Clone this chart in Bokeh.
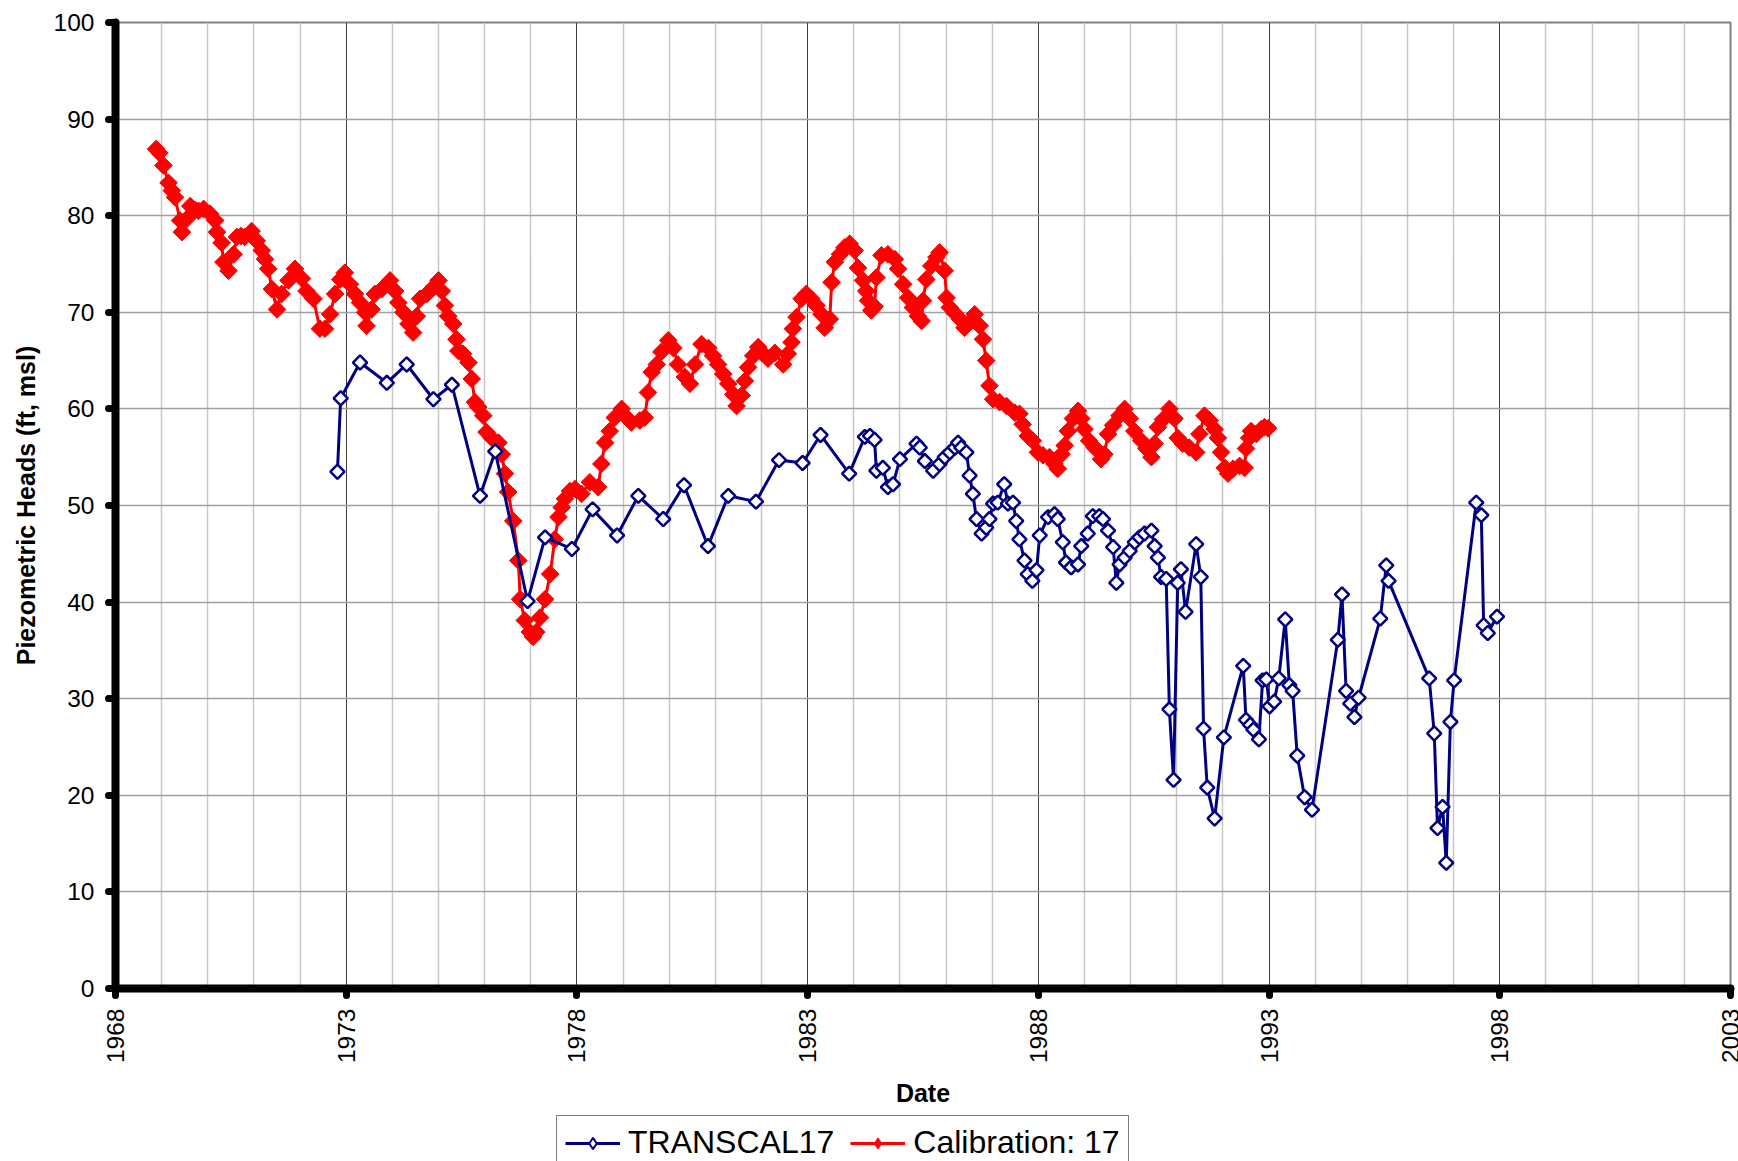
import math
from bokeh.plotting import figure
from bokeh.layouts import column
from bokeh.models import FixedTicker, Legend, LegendItem, ColumnDataSource, Range1d
from bokeh.embed import file_html
from bokeh.resources import INLINE

# ---------------- data (decimal years, ft msl) ----------------
transcal_dates = [
    1972.81, 1972.88, 1973.30, 1973.88, 1974.31, 1974.89, 1975.29, 1975.90, 1976.23, 1976.93,
    1977.31, 1977.89, 1978.34, 1978.87, 1979.33, 1979.87, 1980.32, 1980.84, 1981.28, 1981.88,
    1982.38, 1982.89, 1983.28, 1983.90, 1984.24, 1984.35, 1984.45, 1984.49, 1984.63, 1984.74,
    1984.85, 1985.00, 1985.36, 1985.43, 1985.54, 1985.72, 1985.86, 1985.97, 1986.08, 1986.19,
    1986.26, 1986.33, 1986.44, 1986.51, 1986.58, 1986.66, 1986.77, 1986.87, 1986.94, 1987.02,
    1987.12, 1987.26, 1987.34, 1987.45, 1987.52, 1987.59, 1987.70, 1987.77, 1987.87, 1987.96,
    1988.03, 1988.21, 1988.35, 1988.42, 1988.53, 1988.60, 1988.71, 1988.86, 1988.93, 1989.07,
    1989.18, 1989.32, 1989.40, 1989.51, 1989.62, 1989.69, 1989.76, 1989.87, 1989.98, 1990.09,
    1990.19, 1990.30, 1990.45, 1990.52, 1990.59, 1990.66, 1990.77, 1990.84, 1990.93, 1991.02,
    1991.09, 1991.19, 1991.42, 1991.52, 1991.58, 1991.66, 1991.82, 1992.02, 1992.44, 1992.50,
    1992.59, 1992.66, 1992.78, 1992.86, 1992.94, 1993.01, 1993.11, 1993.21, 1993.35, 1993.44,
    1993.51, 1993.61, 1993.77, 1993.93, 1994.49, 1994.58, 1994.67, 1994.76, 1994.85, 1994.94,
    1995.41, 1995.54, 1995.59, 1996.47, 1996.58, 1996.65, 1996.76, 1996.84, 1996.93, 1997.01,
    1997.49, 1997.60, 1997.65, 1997.74, 1997.94,
]
transcal_heads = [
    53.5, 61.1, 64.8, 62.7, 64.6, 61.0, 62.5, 51.0, 55.6, 40.1,
    46.7, 45.5, 49.6, 46.9, 51.0, 48.6, 52.1, 45.8, 51.0, 50.4,
    54.7, 54.4, 57.3, 53.3, 57.1, 57.2, 56.8, 53.6, 53.9, 51.9,
    52.2, 54.8, 56.4, 56.0, 54.6, 53.6, 54.3, 55.0, 55.5, 56.0,
    56.5, 56.0, 55.5, 53.1, 51.2, 48.6, 47.1, 47.7, 48.6, 50.2,
    50.3, 52.2, 50.2, 50.3, 48.4, 46.5, 44.3, 42.9, 42.2, 43.3,
    46.9, 48.8, 49.1, 48.6, 46.2, 44.1, 43.6, 43.9, 45.8, 47.1,
    48.9, 48.9, 48.6, 47.4, 45.7, 42.0, 43.9, 44.6, 45.3, 46.2,
    46.7, 47.1, 47.4, 45.8, 44.6, 42.6, 42.4, 28.9, 21.6, 42.0,
    43.4, 39.0, 46.0, 42.6, 26.9, 20.8, 17.6, 26.0, 33.4, 27.8,
    27.3, 26.8, 25.8, 31.9, 32.0, 29.2, 29.7, 32.1, 38.2, 31.4,
    30.8, 24.1, 19.8, 18.5, 36.1, 40.8, 30.8, 29.5, 28.1, 30.1,
    38.3, 43.8, 42.2, 32.1, 26.4, 16.6, 18.8, 13.0, 27.6, 31.9,
    50.3, 49.0, 37.6, 36.8, 38.5,
]

calib_dates = [
    1968.88, 1968.95, 1969.04, 1969.15, 1969.22, 1969.29, 1969.40, 1969.44, 1969.55, 1969.62,
    1969.72, 1969.80, 1969.91, 1970.05, 1970.16, 1970.20, 1970.30, 1970.34, 1970.45, 1970.56,
    1970.63, 1970.72, 1970.80, 1970.95, 1971.06, 1971.17, 1971.24, 1971.31, 1971.39, 1971.50,
    1971.60, 1971.75, 1971.89, 1972.04, 1972.14, 1972.29, 1972.43, 1972.54, 1972.65, 1972.76,
    1972.87, 1972.97, 1973.08, 1973.19, 1973.30, 1973.41, 1973.44, 1973.55, 1973.62, 1973.77,
    1973.95, 1974.06, 1974.13, 1974.24, 1974.35, 1974.45, 1974.53, 1974.60, 1974.75, 1974.89,
    1975.00, 1975.07, 1975.14, 1975.21, 1975.32, 1975.39, 1975.43, 1975.53, 1975.65, 1975.72,
    1975.79, 1975.86, 1975.97, 1976.04, 1976.15, 1976.30, 1976.37, 1976.44, 1976.51, 1976.62,
    1976.73, 1976.77, 1976.87, 1976.98, 1977.05, 1977.12, 1977.20, 1977.31, 1977.42, 1977.52,
    1977.60, 1977.67, 1977.74, 1977.85, 1977.96, 1978.10, 1978.28, 1978.46, 1978.53, 1978.61,
    1978.71, 1978.82, 1978.97, 1979.08, 1979.18, 1979.36, 1979.47, 1979.54, 1979.62, 1979.73,
    1979.83, 1979.98, 1980.09, 1980.19, 1980.34, 1980.45, 1980.56, 1980.70, 1980.85, 1980.95,
    1981.06, 1981.17, 1981.28, 1981.39, 1981.46, 1981.57, 1981.64, 1981.71, 1981.82, 1981.93,
    1982.04, 1982.14, 1982.29, 1982.47, 1982.57, 1982.65, 1982.68, 1982.76, 1982.87, 1982.97,
    1983.08, 1983.19, 1983.30, 1983.37, 1983.48, 1983.52, 1983.59, 1983.70, 1983.80, 1983.91,
    1984.02, 1984.09, 1984.20, 1984.27, 1984.31, 1984.38, 1984.45, 1984.49, 1984.60, 1984.74,
    1984.89, 1984.96, 1985.07, 1985.18, 1985.28, 1985.39, 1985.47, 1985.50, 1985.57, 1985.68,
    1985.79, 1985.86, 1985.97, 1986.01, 1986.08, 1986.19, 1986.30, 1986.40, 1986.55, 1986.62,
    1986.73, 1986.80, 1986.87, 1986.94, 1987.02, 1987.16, 1987.31, 1987.49, 1987.59, 1987.66,
    1987.77, 1987.88, 1987.99, 1988.10, 1988.24, 1988.35, 1988.42, 1988.50, 1988.57, 1988.64,
    1988.75, 1988.86, 1988.93, 1989.00, 1989.10, 1989.22, 1989.36, 1989.43, 1989.51, 1989.62,
    1989.76, 1989.87, 1989.98, 1990.08, 1990.23, 1990.34, 1990.45, 1990.52, 1990.59, 1990.70,
    1990.84, 1990.95, 1991.02, 1991.13, 1991.27, 1991.42, 1991.49, 1991.60, 1991.71, 1991.82,
    1991.89, 1991.96, 1992.04, 1992.11, 1992.22, 1992.36, 1992.47, 1992.50, 1992.57, 1992.61,
    1992.72, 1992.83, 1992.90, 1992.98,
]
calib_heads = [
    86.9, 86.5, 85.2, 83.4, 82.6, 81.9, 79.5, 78.3, 79.7, 81.0,
    80.6, 80.5, 80.7, 80.2, 79.5, 78.3, 77.2, 75.2, 74.3, 76.0,
    77.8, 77.9, 77.8, 78.4, 77.4, 76.4, 75.5, 74.5, 72.4, 70.3,
    71.9, 73.3, 74.5, 73.5, 72.2, 71.4, 68.3, 68.3, 69.8, 71.9,
    73.4, 74.1, 72.9, 71.9, 71.0, 70.0, 68.6, 70.3, 71.9, 72.4,
    73.3, 72.2, 71.0, 70.0, 68.8, 67.9, 69.6, 71.4, 71.9, 72.6,
    73.3, 72.2, 70.7, 69.6, 68.8, 67.2, 66.0, 65.7, 64.8, 63.1,
    60.7, 60.2, 59.3, 57.6, 57.0, 56.5, 55.3, 53.3, 51.4, 48.4,
    44.3, 40.3, 38.1, 36.9, 36.4, 36.9, 38.4, 40.3, 42.9, 46.5,
    48.8, 49.8, 50.7, 51.5, 51.7, 51.2, 52.4, 51.9, 54.3, 56.5,
    57.7, 59.1, 60.0, 59.1, 58.6, 58.8, 59.1, 61.7, 63.8, 64.6,
    65.9, 67.1, 66.3, 64.6, 63.3, 62.6, 64.6, 66.7, 66.3, 65.5,
    64.6, 63.6, 62.6, 61.5, 60.3, 61.4, 62.9, 64.3, 65.5, 66.4,
    65.7, 65.2, 65.8, 64.6, 65.7, 66.9, 68.3, 69.5, 71.4, 71.9,
    71.4, 70.7, 69.8, 68.4, 69.3, 73.1, 75.2, 76.0, 76.7, 77.1,
    76.4, 74.6, 73.3, 72.2, 71.2, 70.2, 70.6, 73.6, 75.9, 76.0,
    75.5, 74.5, 72.9, 71.5, 70.5, 69.6, 69.1, 71.2, 73.4, 74.8,
    75.7, 76.2, 74.3, 71.5, 70.5, 69.9, 69.3, 68.4, 69.1, 69.8,
    68.6, 67.2, 65.0, 62.4, 61.0, 60.7, 60.3, 59.6, 59.5, 58.4,
    57.2, 56.7, 55.5, 55.2, 55.0, 54.3, 53.8, 55.3, 56.2, 57.7,
    59.0, 59.8, 59.0, 57.9, 56.7, 56.0, 54.8, 55.3, 57.4, 58.3,
    59.3, 60.0, 59.0, 57.7, 56.7, 55.9, 55.0, 56.4, 58.1, 58.9,
    60.0, 59.0, 57.0, 56.4, 56.0, 55.5, 57.4, 59.3, 58.8, 57.9,
    57.0, 55.5, 53.9, 53.3, 53.8, 54.1, 53.9, 55.9, 57.0, 57.7,
    57.4, 57.9, 58.1, 58.0,
]

year_ticks = [1968, 1973, 1978, 1983, 1988, 1993, 1998, 2003]
year_minor = [y for y in range(1968, 2004) if y not in year_ticks]
head_ticks = [0, 10, 20, 30, 40, 50, 60, 70, 80, 90, 100]

series_names = ["TRANSCAL17", "Calibration: 17"]

# ---------------- styles ----------------
FONT = "Liberation Sans"
BLUE = "#000080"
RED = "#ff0000"
t_line_kw = dict(line_color=BLUE, line_width=3)
t_pt_kw = dict(marker="square", angle=math.pi / 4, size=10,
               fill_color="white", line_color=BLUE, line_width=2.5)
c_line_kw = dict(line_color=RED, line_width=3)
c_pt_kw = dict(marker="square", angle=math.pi / 4, size=12.5,
               fill_color=RED, line_color=RED, line_width=1)

# ---------------- main figure ----------------
p = figure(
    width=1738, height=1112,
    x_range=Range1d(1968, 2003), y_range=Range1d(0, 100),
    output_backend="svg", toolbar_location=None,
    min_border_left=115, min_border_right=8, min_border_top=22, min_border_bottom=124,
)
p.background_fill_color = "white"
p.border_fill_color = "white"
p.outline_line_color = "#808080"
p.outline_line_width = 2

for ax in (p.xaxis[0], p.yaxis[0]):
    ax.axis_line_color = "black"
    ax.axis_line_width = 8
    ax.axis_line_cap = "round"
    ax.major_tick_line_color = "black"
    ax.major_tick_line_width = 7
    ax.major_tick_line_cap = "round"
    ax.major_tick_in = 0
    ax.major_tick_out = 7
    ax.minor_tick_line_color = None
    ax.major_label_text_font = FONT
    ax.major_label_text_font_size = "24.5px"
    ax.major_label_text_color = "black"
    ax.axis_label_text_font = FONT
    ax.axis_label_text_font_size = "25px"
    ax.axis_label_text_font_style = "bold"
    ax.axis_label_text_color = "black"

p.xaxis.ticker = FixedTicker(ticks=year_ticks, minor_ticks=year_minor)
p.yaxis.ticker = FixedTicker(ticks=head_ticks)
p.xaxis.major_label_orientation = math.pi / 2
p.xaxis.major_label_standoff = 13
p.yaxis.major_label_standoff = 14
p.xaxis.axis_label = "Date"
p.yaxis.axis_label = "Piezometric Heads (ft, msl)"
p.xaxis.axis_label_standoff = 13
p.yaxis.axis_label_standoff = 11

p.xgrid.grid_line_color = "#404040"
p.xgrid.grid_line_width = 1
p.xgrid.minor_grid_line_color = "#c8c8c8"
p.xgrid.minor_grid_line_width = 1.5
p.ygrid.grid_line_color = "#a0a0a0"
p.ygrid.grid_line_width = 1.5

src_t = ColumnDataSource(dict(x=transcal_dates, y=transcal_heads))
src_c = ColumnDataSource(dict(x=calib_dates, y=calib_heads))

p.line("x", "y", source=src_c, **c_line_kw)
p.scatter("x", "y", source=src_c, **c_pt_kw)
p.line("x", "y", source=src_t, **t_line_kw)
p.scatter("x", "y", source=src_t, **t_pt_kw)

# ---------------- legend strip below the chart ----------------
lg = figure(
    width=1738, height=49, x_range=Range1d(0, 1), y_range=Range1d(0, 1),
    output_backend="svg", toolbar_location=None,
    min_border_left=115, min_border_right=8, min_border_top=0, min_border_bottom=0,
)
lg.axis.visible = False
lg.grid.visible = False
lg.outline_line_color = None
lg.background_fill_color = "white"
lg.border_fill_color = "white"

# proxy glyphs lying outside the strip's range: only their legend swatches show
proxy_t = ColumnDataSource(dict(x=[-10.0], y=[-10.0]))
proxy_c = ColumnDataSource(dict(x=[-10.0], y=[-10.0]))
lt_line = lg.line("x", "y", source=proxy_t, line_color=BLUE, line_width=3)
lt_pts = lg.scatter("x", "y", source=proxy_t, marker="diamond", size=14,
                    fill_color="white", line_color=BLUE, line_width=2)
lc_line = lg.line("x", "y", source=proxy_c, line_color=RED, line_width=3)
lc_pts = lg.scatter("x", "y", source=proxy_c, marker="diamond", size=16,
                    fill_color=RED, line_color=RED, line_width=1)

legend = Legend(
    items=[LegendItem(label=series_names[0], renderers=[lt_line, lt_pts]),
           LegendItem(label=series_names[1], renderers=[lc_line, lc_pts])],
    orientation="horizontal",
    location=(441, -9),
    label_text_font=FONT, label_text_font_size="32px", label_text_color="black",
    glyph_width=55, glyph_height=28, label_standoff=8, spacing=16,
    padding=8, margin=0,
    border_line_color="black", border_line_width=1.5,
    background_fill_color="white", background_fill_alpha=1.0,
)
lg.add_layout(legend, "center")

layout = column(p, lg, spacing=0)
open("out.html", "w").write(file_html(layout, INLINE))
